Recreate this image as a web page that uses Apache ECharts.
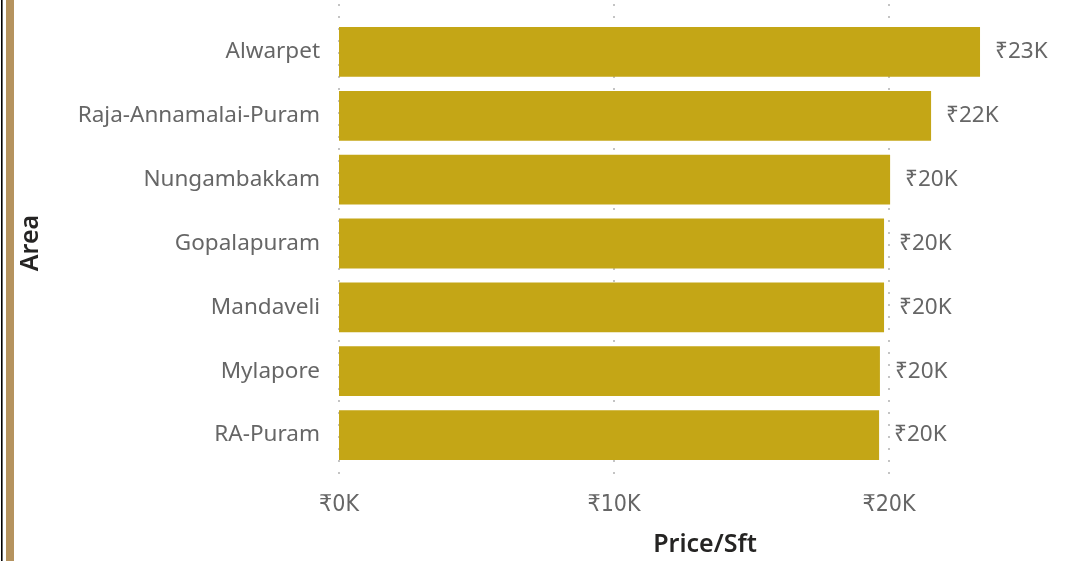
<!DOCTYPE html>
<html><head><meta charset="utf-8">
<script src="https://cdn.jsdelivr.net/npm/echarts@6/dist/echarts.min.js"></script>
<style>html,body{margin:0;padding:0;background:#fff}#c{width:1077px;height:561px}</style>
</head><body><div id="c"></div>
<script>
const categories = ['Alwarpet','Raja-Annamalai-Puram','Nungambakkam','Gopalapuram','Mandaveli','Mylapore','RA-Puram'];
const values = [23310, 21530, 20040, 19820, 19820, 19670, 19640];
const xTicks = [0, 10000, 20000];
function fmtK(v){ return '₹' + Math.round(v/1000) + 'K'; }
const labelFont = '"Noto Sans", "Open Sans", sans-serif';
const tickFont = '"DejaVu Sans Condensed", "Noto Sans", sans-serif';
const titleFont = '"Noto Sans", sans-serif';
const chart = echarts.init(document.getElementById('c'));
const gridLeft = 339, gridWidth = 825;
chart.setOption({
  animation:false,
  grid:[
    {left:gridLeft, width:gridWidth, top:20, height:447, outerBoundsMode:'none', containLabel:false},
    {left:gridLeft, width:gridWidth, top:4, bottom:77, outerBoundsMode:'none', containLabel:false}
  ],
  xAxis:[
    {gridIndex:0, type:'value', min:0, max:30000, interval:10000, show:false, splitLine:{show:false}},
    {gridIndex:1, type:'value', min:0, max:30000, interval:10000,
     axisLine:{show:false}, axisTick:{show:false},
     axisLabel:{margin:10, color:'#666666', fontSize:23, fontFamily:tickFont,
       formatter:v=> xTicks.indexOf(v)>=0 ? fmtK(v) : ''},
     splitLine:{show:true, lineStyle:{color:'#c4c4c4', width:2, type:[2,10]}}}
  ],
  yAxis:[
    {gridIndex:0, type:'category', data:categories, inverse:true,
     axisLine:{show:false}, axisTick:{show:false},
     axisLabel:{margin:19, color:'#666666', fontSize:22.5, fontFamily:labelFont}},
    {gridIndex:1, type:'value', show:false}
  ],
  series:[{
    type:'bar', xAxisIndex:0, yAxisIndex:0, data:values,
    barCategoryGap:'22%',
    itemStyle:{color:'#C4A616'},
    label:{show:true, position:'right', distance:15, color:'#666666', fontSize:22.5, fontFamily:labelFont,
      formatter:p=>fmtK(p.value)}
  }],
  graphic:[
    {type:'rect', shape:{x:1, y:0, width:1.6, height:561}, style:{fill:'#000'}},
    {type:'rect', shape:{x:6, y:0, width:8, height:561}, style:{fill:'#B5935F'}},
    {type:'text', x:31, y:243, rotation:Math.PI/2,
     style:{text:'Area', fontSize:25, fontWeight:600, fontFamily:titleFont, fill:'#252423', align:'center', verticalAlign:'middle'}},
    {type:'text', x:705, y:545,
     style:{text:'Price/Sft', fontSize:25, fontWeight:600, fontFamily:titleFont, fill:'#252423', align:'center', verticalAlign:'middle'}}
  ]
});
</script></body></html>
